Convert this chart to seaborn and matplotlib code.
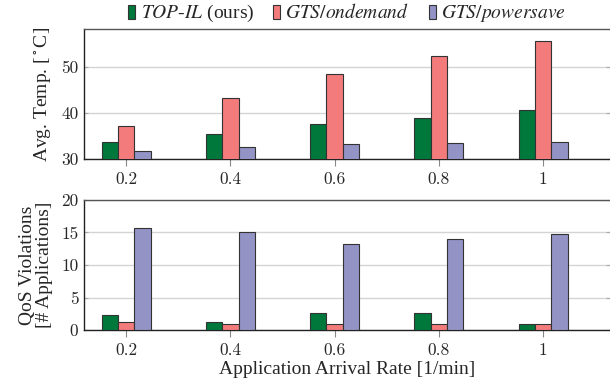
import pandas as pd
import matplotlib.pyplot as plt
import seaborn as sns

# Values
rates = ['0.2', '0.4', '0.6', '0.8', '1']
methods = [r'$\mathit{TOP}$-$\mathit{IL}$ (ours)', r'$\mathit{GTS/ondemand}$', r'$\mathit{GTS/powersave}$']
temp_topil = [33.7, 35.5, 37.5, 38.9, 40.6]
temp_ondemand = [37.2, 43.3, 48.5, 52.4, 55.6]
temp_powersave = [31.7, 32.7, 33.2, 33.5, 33.8]
qos_topil = [2.3, 1.3, 2.7, 2.7, 1.0]
qos_ondemand = [1.3, 1.0, 1.0, 1.0, 1.0]
qos_powersave = [15.7, 15.0, 13.3, 14.0, 14.7]

colors = ['#00783C', '#F37B7B', '#9393C6']

rows = []
for m, t, q in zip(methods,
                   [temp_topil, temp_ondemand, temp_powersave],
                   [qos_topil, qos_ondemand, qos_powersave]):
    for r, tv, qv in zip(rates, t, q):
        rows.append({'rate': r, 'method': m, 'temp': tv, 'qos': qv})
df = pd.DataFrame(rows)

sns.set_style('white')
plt.rcParams['font.family'] = ['Liberation Serif', 'DejaVu Serif']
plt.rcParams['mathtext.fontset'] = 'stix'
plt.rcParams['font.size'] = 13

fig = plt.figure(figsize=(6.1, 3.87), dpi=100)
ax1 = fig.add_axes([0.1377, 0.589, 0.8623, 0.336])
ax2 = fig.add_axes([0.1377, 0.1465, 0.8623, 0.337])

for ax, col, ylim, yticks in [(ax1, 'temp', (30, 58.2), [30, 40, 50]),
                              (ax2, 'qos', (0, 20), [0, 5, 10, 15, 20])]:
    sns.barplot(data=df, x='rate', y=col, hue='method', palette=colors,
                width=0.47, gap=0, edgecolor='#333333', linewidth=0.8,
                saturation=1, ax=ax, legend=(ax is ax1), zorder=3)
    ax.set_ylim(*ylim)
    ax.set_yticks(yticks)
    ax.set_xlim(-0.403, 4.64)
    ax.yaxis.grid(True, color='#d4d4d4', linewidth=1, zorder=0)
    ax.set_axisbelow(True)
    ax.tick_params(axis='x', direction='out', length=5, color='#888888',
                   labelsize=12.5, pad=4, bottom=True)
    ax.tick_params(axis='y', direction='in', length=3, color='#aaaaaa',
                   labelsize=12.5, pad=4, left=True, right=True)
    for lab in ax.get_xticklabels() + ax.get_yticklabels():
        lab.set_fontfamily('cmr10')
    ax.spines['right'].set_visible(False)
    ax.spines['left'].set_color('#222222')
    ax.spines['bottom'].set_color('#222222')
    ax.spines['top'].set_color('#555555')
    for s in ax.spines.values():
        s.set_linewidth(1.0)
    ax.set_xlabel('')

ax1.set_ylabel('Avg. Temp. [$^\\circ$C]', fontsize=14, labelpad=6)
ax2.set_ylabel('QoS Violations\n[# Applications]', fontsize=14, labelpad=6,
               linespacing=1.0)
ax2.set_xlabel('Application Arrival Rate [1/min]', fontsize=14, labelpad=2)

handles, labels = ax1.get_legend_handles_labels()
ax1.get_legend().remove()
fig.legend(handles, labels, loc='center', bbox_to_anchor=(0.569, 0.964),
           ncol=3, frameon=False, fontsize=14, handlelength=0.36,
           handleheight=0.72, handletextpad=0.26, columnspacing=1.0,
           borderaxespad=0, borderpad=0)

fig.savefig('out.png', dpi=100)
